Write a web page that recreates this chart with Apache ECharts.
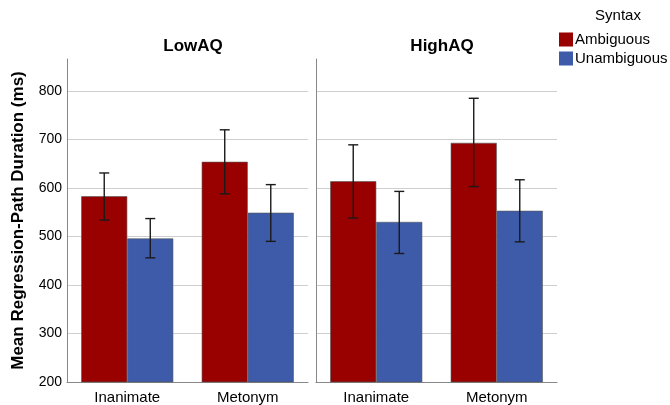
<!DOCTYPE html>
<html><head><meta charset="utf-8">
<script src="https://cdn.jsdelivr.net/npm/echarts@6/dist/echarts.min.js"></script>
<style>html,body{margin:0;padding:0;background:#fff}#c{width:670px;height:405px}</style>
</head><body><div id="c"></div>
<script>
const panels = ['LowAQ', 'HighAQ'];
const categories = ['Inanimate', 'Metonym'];
const seriesNames = ['Ambiguous', 'Unambiguous'];
// values per panel: [Inanimate, Metonym]
const lowAmbig = [583, 654];
const lowUnambig = [496, 549];
const highAmbig = [614, 693];
const highUnambig = [530, 553];
// error bar bounds [low, high]
const lowAmbigErr = [[534, 631], [588, 720]];
const lowUnambigErr = [[456, 537], [490, 607]];
const highAmbigErr = [[538, 689], [603, 785]];
const highUnambigErr = [[465, 593], [489, 617]];
const yTicks = [200, 300, 400, 500, 600, 700, 800];

const colors = ['#990000', '#3D5BA9'];
const font = "'Liberation Sans', Arial, sans-serif";
const gapPct = 23.6;

function errSeries(name, errs, xi, side) {
  return {
    type: 'custom', name: name + ' err', xAxisIndex: xi, yAxisIndex: xi, z: 10,
    data: errs.map((e, i) => [i, e[0], e[1]]),
    renderItem: function (params, api) {
      const cat = api.value(0);
      const lo = api.coord([cat, api.value(1)]);
      const hi = api.coord([cat, api.value(2)]);
      const cw = api.size([1, 0])[0];
      const bw = cw * (1 - gapPct / 100) / 2;
      const x = lo[0] + side * bw / 2;
      const cap = 5;
      const st = { stroke: '#1a1a1a', lineWidth: 1.4 };
      return { type: 'group', children: [
        { type: 'line', shape: { x1: x, y1: lo[1], x2: x, y2: hi[1] }, style: st },
        { type: 'line', shape: { x1: x - cap, y1: lo[1], x2: x + cap, y2: lo[1] }, style: st },
        { type: 'line', shape: { x1: x - cap, y1: hi[1], x2: x + cap, y2: hi[1] }, style: st }
      ]};
    }
  };
}

function barSeries(name, data, xi, ci) {
  return {
    type: 'bar', name: name, xAxisIndex: xi, yAxisIndex: xi, data: data,
    barGap: 0, barCategoryGap: gapPct + '%',
    itemStyle: { color: colors[ci], borderColor: '#555', borderWidth: 0.6 }
  };
}

const grids = [
  { left: 67, top: 59, width: 241, bottom: 23 },
  { left: 316, top: 59, width: 241, bottom: 23 }
];

const option = {
  animation: false,
  textStyle: { fontFamily: font },
  title: [
    { text: panels[0], left: 188, top: 33, textAlign: 'center', textStyle: { fontSize: 17, fontWeight: 'bold', color: '#000', fontFamily: font } },
    { text: panels[1], left: 437, top: 33, textAlign: 'center', textStyle: { fontSize: 17, fontWeight: 'bold', color: '#000', fontFamily: font } },
    { text: 'Syntax', left: 613, top: 3, textAlign: 'center', textStyle: { fontSize: 15, fontWeight: 'normal', color: '#000', fontFamily: font } }
  ],
  legend: {
    data: seriesNames, orient: 'vertical', left: 559, top: 32, padding: 0,
    itemWidth: 14, itemHeight: 14, itemGap: 4, icon: 'rect',
    itemStyle: { borderWidth: 0 },
    textStyle: { fontSize: 15, color: '#000', fontFamily: font, padding: [0, 0, 0, -3] }
  },
  grid: grids,
  xAxis: [0, 1].map(i => ({
    type: 'category', gridIndex: i, data: categories,
    axisLine: { show: true, lineStyle: { color: '#888', width: 1 } },
    axisTick: { show: false },
    axisLabel: { fontSize: 15, color: '#000', margin: 8, fontFamily: font }
  })),
  yAxis: [0, 1].map(i => ({
    type: 'value', gridIndex: i, min: 200, max: 866, interval: 100,
    name: i === 0 ? 'Mean Regression-Path Duration (ms)' : '',
    nameLocation: 'middle', nameGap: 40,
    nameTextStyle: { fontSize: 17, fontWeight: 'bold', color: '#000', fontFamily: font },
    axisLine: { show: true, lineStyle: { color: '#888', width: 1 } },
    axisTick: { show: false },
    axisLabel: {
      show: i === 0, fontSize: 14, color: '#000', margin: 5, fontFamily: font,
      showMaxLabel: false,
      formatter: v => (yTicks.indexOf(v) >= 0 ? String(v) : '')
    },
    splitLine: { show: true, showMaxLine: false, showMinLine: false, lineStyle: { color: '#cfcfcf', width: 1 } }
  })),
  series: [
    barSeries(seriesNames[0], lowAmbig, 0, 0),
    barSeries(seriesNames[1], lowUnambig, 0, 1),
    barSeries(seriesNames[0], highAmbig, 1, 0),
    barSeries(seriesNames[1], highUnambig, 1, 1),
    errSeries(seriesNames[0], lowAmbigErr, 0, -1),
    errSeries(seriesNames[1], lowUnambigErr, 0, 1),
    errSeries(seriesNames[0], highAmbigErr, 1, -1),
    errSeries(seriesNames[1], highUnambigErr, 1, 1)
  ]
};
echarts.init(document.getElementById('c'), null, { renderer: 'canvas' }).setOption(option);
</script></body></html>
